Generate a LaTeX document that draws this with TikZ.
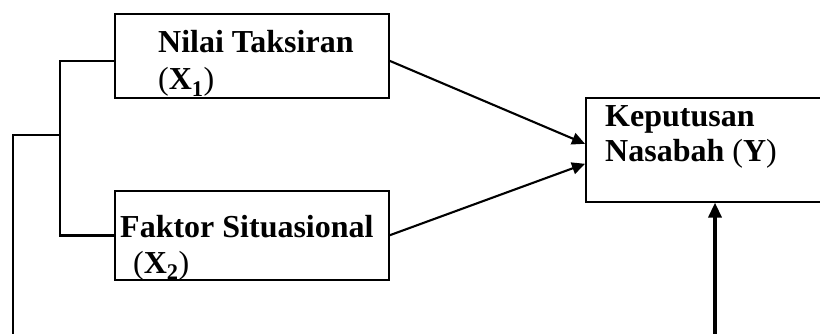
\documentclass[tikz,border=0pt]{standalone}
\usepackage{fontspec}
\setmainfont{Liberation Serif}
\usetikzlibrary{arrows.meta, positioning, calc}

\tikzset{
  varbox/.style={draw=black, line width=1.6pt, rectangle, anchor=north west, inner sep=0pt},
  lbl/.style={anchor=base west, inner sep=0pt, font=\fontsize{32}{37}\selectfont\bfseries},
  bracket/.style={line width=2.4pt},
  link/.style={line width=2.1pt, -{Triangle[length=13pt,width=12pt]}},
  feed/.style={line width=3.4pt, -{Triangle[length=15pt,width=13pt]}}
}

\begin{document}
\begin{tikzpicture}[x=1pt, y=-1pt]
  \useasboundingbox (0,0) rectangle (820,334);

  \node[varbox, minimum width=274pt, minimum height=84pt] (x1) at (114,13) {};
  \node[varbox, minimum width=274pt, minimum height=89pt] (x2) at (114,190) {};
  \node[varbox, minimum width=250pt, minimum height=104pt] (y) at (585,97) {};

  \node[lbl] (x1a) at (158,53) {Nilai Taksiran};
  \node[lbl] (x1b) at (158,90) {\mdseries(\textbf{X}\textsubscript{\bfseries 1}\mdseries)};
  \node[lbl] (x2a) at (120,237) {Faktor Situasional};
  \node[lbl] (x2b) at (133,273) {\mdseries(\textbf{X}\textsubscript{\bfseries 2}\mdseries)};
  \node[lbl] (ya) at (605,127) {Keputusan};
  \node[lbl] (yb) at (605,162) {Nasabah \mdseries(\textbf{Y})};

  \coordinate (jn) at (60,135);
  \coordinate (lf) at (13,135);
  \coordinate (bl) at (13,334);
  \coordinate (br) at (715,334);

  \draw[bracket] ([yshift=-5pt]x1.west) -| (jn) |- (x2.west);
  \draw[bracket] (jn) -- (lf) -- (bl);

  \draw[link] ([yshift=-5pt]x1.east) -- ([yshift=6pt]y.west);
  \draw[link] (x2.east) -- ([yshift=-14pt]y.west);
  \draw[feed] (br) -- (y.south -| br);
\end{tikzpicture}
\end{document}
